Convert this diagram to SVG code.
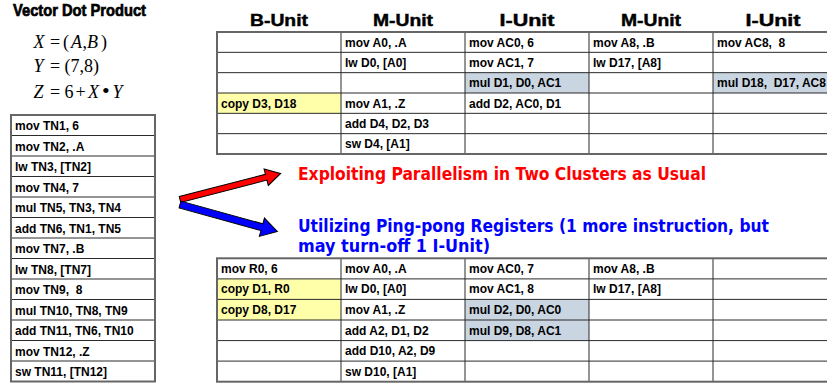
<svg xmlns="http://www.w3.org/2000/svg" width="827" height="383" viewBox="0 0 827 383">
<style>
.title{font-family:"Liberation Sans Narrow","Liberation Sans",Arial,sans-serif;font-weight:bold;font-size:17px;fill:#000;stroke:#000;stroke-width:0.7}
.eq{font-family:"Liberation Serif","Times New Roman",serif;font-size:18px;fill:#000}
.it{font-style:italic}
.dot{font-size:22px}
.hdr{font-family:"Liberation Sans",Arial,sans-serif;font-weight:bold;font-size:17px;fill:#000;stroke:#000;stroke-width:0.45;text-anchor:middle}
.cell{font-family:"Liberation Sans",Arial,sans-serif;font-weight:bold;font-size:12px;fill:#000;white-space:pre}
.grid{fill:none;stroke:#2a2a2a;stroke-width:1}
.outer{fill:none;stroke:#666;stroke-width:2}
.yel{fill:#ffffaa}
.blu{fill:#c9d5e0}
.note{font-family:"DejaVu Sans",Verdana,sans-serif;font-weight:bold;font-size:17px}
.red{fill:#ff0000}
.blue{fill:#0000ff}
.arrow{stroke:#000;stroke-width:1;stroke-linejoin:miter}
</style>

<g id="title">
<text class="title" x="13" y="16" textLength="133" lengthAdjust="spacingAndGlyphs">Vector Dot Product</text>
</g>

<g id="equations">
<text class="eq" y="47.5"><tspan class="it" x="33.5">X</tspan><tspan x="50">=</tspan><tspan x="63">(</tspan></text>
<text class="eq" y="47.5"><tspan class="it" x="71">A</tspan><tspan x="82.5">,</tspan><tspan class="it" x="87">B</tspan><tspan x="101">)</tspan></text>
<text class="eq" y="72"><tspan class="it" x="33.5">Y</tspan><tspan x="50">=</tspan><tspan x="64.5">(7,8)</tspan></text>
<text class="eq" y="98"><tspan class="it" x="33.5">Z</tspan><tspan x="50">=</tspan><tspan x="64.5">6</tspan><tspan x="75.5">+</tspan><tspan class="it" x="88">X</tspan><tspan class="dot" x="102">•</tspan><tspan class="it" x="112.5">Y</tspan></text>
</g>

<g id="tac-code">
<path class="grid" d="M11 135.5H155M11 156H155M11 176.5H155M11 197H155M11 217.5H155M11 238H155M11 258.5H155M11 279H155M11 299.5H155M11 320H155M11 340.5H155M11 361H155"/>
<rect class="outer" x="11" y="115" width="144" height="266.5"/>
<g xml:space="preserve">
<text class="cell" x="15" y="130">mov TN1, 6</text>
<text class="cell" x="15" y="150.5">mov TN2, .A</text>
<text class="cell" x="15" y="171">lw TN3, [TN2]</text>
<text class="cell" x="15" y="191.5">mov TN4, 7</text>
<text class="cell" x="15" y="212">mul TN5, TN3, TN4</text>
<text class="cell" x="15" y="232.5">add TN6, TN1, TN5</text>
<text class="cell" x="15" y="253">mov TN7, .B</text>
<text class="cell" x="15" y="273.5">lw TN8, [TN7]</text>
<text class="cell" x="15" y="294">mov TN9,  8</text>
<text class="cell" x="15" y="314.5">mul TN10, TN8, TN9</text>
<text class="cell" x="15" y="335">add TN11, TN6, TN10</text>
<text class="cell" x="15" y="355.5">mov TN12, .Z</text>
<text class="cell" x="15" y="376">sw TN11, [TN12]</text>
</g>
</g>

<g id="headers">
<text class="hdr" x="279" y="25.7" textLength="58" lengthAdjust="spacingAndGlyphs">B-Unit</text>
<text class="hdr" x="403" y="25.7" textLength="60" lengthAdjust="spacingAndGlyphs">M-Unit</text>
<text class="hdr" x="527" y="25.7" textLength="55" lengthAdjust="spacingAndGlyphs">I-Unit</text>
<text class="hdr" x="651" y="25.7" textLength="60" lengthAdjust="spacingAndGlyphs">M-Unit</text>
<text class="hdr" x="773" y="25.7" textLength="55" lengthAdjust="spacingAndGlyphs">I-Unit</text>
</g>

<g id="schedule-two-clusters">
<rect class="blu" x="465" y="72.67" width="124" height="20.33"/>
<rect class="blu" x="713" y="72.67" width="124" height="20.33"/>
<rect class="yel" x="217" y="93" width="124" height="20.33"/>
<path class="grid" d="M217 52.33H837M217 72.67H837M217 93H837M217 113.33H837M217 133.67H837M341 32V154M465 32V154M589 32V154M713 32V154"/>
<rect class="outer" x="217" y="32" width="620" height="122"/>
<g xml:space="preserve">
<text class="cell" x="345" y="46.5">mov A0, .A</text>
<text class="cell" x="469" y="46.5">mov AC0, 6</text>
<text class="cell" x="593" y="46.5">mov A8, .B</text>
<text class="cell" x="717" y="46.5">mov AC8,  8</text>
<text class="cell" x="345" y="66.8">lw D0, [A0]</text>
<text class="cell" x="469" y="66.8">mov AC1, 7</text>
<text class="cell" x="593" y="66.8">lw D17, [A8]</text>
<text class="cell" x="469" y="87.2">mul D1, D0, AC1</text>
<text class="cell" x="717" y="87.2">mul D18,  D17, AC8</text>
<text class="cell" x="221" y="107.5">copy D3, D18</text>
<text class="cell" x="345" y="107.5">mov A1, .Z</text>
<text class="cell" x="469" y="107.5">add D2, AC0, D1</text>
<text class="cell" x="345" y="127.8">add D4, D2, D3</text>
<text class="cell" x="345" y="148.2">sw D4, [A1]</text>
</g>
</g>

<g id="schedule-pingpong">
<rect class="yel" x="217" y="278.9" width="124" height="20.5"/>
<rect class="yel" x="217" y="299.4" width="124" height="20.6"/>
<rect class="blu" x="465" y="299.4" width="124" height="20.6"/>
<rect class="blu" x="465" y="320" width="124" height="20.6"/>
<path class="grid" d="M217 278.9H837M217 299.4H837M217 320H837M217 340.6H837M217 361.1H837M341 258.3V381.7M465 258.3V381.7M589 258.3V381.7M713 258.3V381.7"/>
<rect class="outer" x="217" y="258.3" width="620" height="123.4"/>
<g xml:space="preserve">
<text class="cell" x="221" y="272.8">mov R0, 6</text>
<text class="cell" x="345" y="272.8">mov A0, .A</text>
<text class="cell" x="469" y="272.8">mov AC0, 7</text>
<text class="cell" x="593" y="272.8">mov A8, .B</text>
<text class="cell" x="221" y="293.4">copy D1, R0</text>
<text class="cell" x="345" y="293.4">lw D0, [A0]</text>
<text class="cell" x="469" y="293.4">mov AC1, 8</text>
<text class="cell" x="593" y="293.4">lw D17, [A8]</text>
<text class="cell" x="221" y="313.9">copy D8, D17</text>
<text class="cell" x="345" y="313.9">mov A1, .Z</text>
<text class="cell" x="469" y="313.9">mul D2, D0, AC0</text>
<text class="cell" x="345" y="334.5">add A2, D1, D2</text>
<text class="cell" x="469" y="334.5">mul D9, D8, AC1</text>
<text class="cell" x="345" y="355.1">add D10, A2, D9</text>
<text class="cell" x="345" y="375.6">sw D10, [A1]</text>
</g>
</g>

<g id="connectors">
<polygon class="arrow red" transform="translate(180,199.5) rotate(-14.5)" points="0,-3 89,-3 89,-8.5 104,0 89,8.5 89,3 0,3"/>
<polygon class="arrow blue" transform="translate(180,204.5) rotate(15.5)" points="0,-3.5 85,-3.5 85,-9.5 101,0 85,9.5 85,3.5 0,3.5"/>
</g>

<g id="labels">
<text class="note red" x="298" y="180" textLength="408" lengthAdjust="spacingAndGlyphs">Exploiting Parallelism in Two Clusters as Usual</text>
<text class="note blue" x="298" y="232" textLength="471" lengthAdjust="spacingAndGlyphs">Utilizing Ping-pong Registers (1 more instruction, but</text>
<text class="note blue" x="298" y="251.5" textLength="192" lengthAdjust="spacingAndGlyphs">may turn-off 1 I-Unit)</text>
</g>
</svg>
